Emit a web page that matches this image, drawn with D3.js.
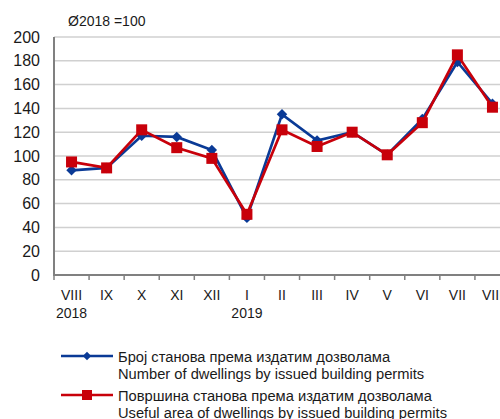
<!DOCTYPE html>
<html>
<head>
<meta charset="utf-8">
<script src="https://cdn.jsdelivr.net/npm/d3@7"></script>
<style>
  body { margin: 0; background: #fff; }
  text { font-family: Arial, "Liberation Sans", sans-serif; fill: #1a1a1a; }
</style>
</head>
<body>
<div id="chart"></div>
<script>
// data
var months = ["VIII", "IX", "X", "XI", "XII", "I", "II", "III", "IV", "V", "VI", "VII", "VIII "];
var years = ["2018", "", "", "", "", "2019", "", "", "", "", "", "", ""];
var dwellings = [88, 90, 117, 116, 105, 48, 135, 113, 120, 101, 131, 179, 144];
var area = [95, 90, 122, 107, 98, 51, 122, 108, 120, 101, 128, 185, 141];
var yTicks = [0, 20, 40, 60, 80, 100, 120, 140, 160, 180, 200];

var svgWidth = 500, svgHeight = 419;
var margin = { top: 37, left: 54, bottom: 144, right: -10 };
var width = 456, height = 238;

var svg = d3.select("#chart").append("svg")
  .attr("width", svgWidth).attr("height", svgHeight);

var chartGroup = svg.append("g")
  .attr("transform", `translate(${margin.left}, ${margin.top})`);

var x = d3.scaleBand().domain(months).range([0, width]);
var y = d3.scaleLinear().domain([0, 200]).range([height, 0]);

// gridlines
chartGroup.selectAll(".grid").data(yTicks.slice(1)).enter()
  .append("line")
  .attr("x1", 0).attr("x2", width)
  .attr("y1", d => y(d)).attr("y2", d => y(d))
  .attr("stroke", "#d0d0d0").attr("stroke-width", 1.5);

// y axis labels
var leftAxis = d3.axisLeft(y).tickValues(yTicks).tickSize(0).tickPadding(14);
var yAxis = chartGroup.append("g").call(leftAxis);
yAxis.select(".domain").remove();
yAxis.selectAll("text").attr("font-size", "16px").attr("fill", "#1a1a1a");

// x axis with ticks at category boundaries
chartGroup.append("line")
  .attr("x1", 0).attr("x2", width).attr("y1", height).attr("y2", height)
  .attr("stroke", "#808080").attr("stroke-width", 2);
chartGroup.append("line")
  .attr("x1", 0).attr("x2", 0).attr("y1", 0).attr("y2", height + 1)
  .attr("stroke", "#808080").attr("stroke-width", 2);
chartGroup.selectAll(".xtick").data(months).enter()
  .append("line")
  .attr("x1", d => x(d)).attr("x2", d => x(d))
  .attr("y1", height).attr("y2", height + 5)
  .attr("stroke", "#808080").attr("stroke-width", 1.5);

chartGroup.selectAll(".xlabel").data(months).enter()
  .append("text")
  .attr("x", d => x(d) + x.bandwidth() / 2)
  .attr("y", height + 25)
  .attr("text-anchor", "middle")
  .attr("font-size", "14px")
  .text(d => d.trim());

chartGroup.selectAll(".ylabel").data(years).enter()
  .append("text")
  .attr("x", (d, i) => x(months[i]) + x.bandwidth() / 2)
  .attr("y", height + 43)
  .attr("text-anchor", "middle")
  .attr("font-size", "14px")
  .text(d => d);

// unit note
svg.append("text")
  .attr("x", 68).attr("y", 26)
  .attr("font-size", "14px")
  .text("Ø2018 =100");

var line = d3.line()
  .x((d, i) => x(months[i]) + x.bandwidth() / 2)
  .y(d => y(d));

var blue = "#0a3a96", red = "#c8000a";

// dwellings series
chartGroup.append("path").datum(dwellings)
  .attr("d", line).attr("fill", "none")
  .attr("stroke", blue).attr("stroke-width", 2.7);
chartGroup.selectAll(".dia").data(dwellings).enter()
  .append("path")
  .attr("d", d3.symbol().type(d3.symbolDiamond2).size(70))
  .attr("transform", (d, i) => `translate(${x(months[i]) + x.bandwidth() / 2}, ${y(d)})`)
  .attr("fill", blue);

// area series
chartGroup.append("path").datum(area)
  .attr("d", line).attr("fill", "none")
  .attr("stroke", red).attr("stroke-width", 2.7);
chartGroup.selectAll(".sq").data(area).enter()
  .append("rect")
  .attr("x", (d, i) => x(months[i]) + x.bandwidth() / 2 - 5.5)
  .attr("y", d => y(d) - 5.5)
  .attr("width", 11).attr("height", 11)
  .attr("fill", red);

// legend
var legend = svg.append("g");
var items = [
  { color: blue, lines: ["Број станова према издатим дозволама", "Number of dwellings by issued building permits"], y: 356, sq: false },
  { color: red, lines: ["Површина станова према издатим дозволама", "Useful area of dwellings by issued building permits"], y: 395, sq: true }
];
items.forEach(function(it) {
  legend.append("line")
    .attr("x1", 61).attr("x2", 113).attr("y1", it.y).attr("y2", it.y)
    .attr("stroke", it.color).attr("stroke-width", 2.5);
  if (it.sq) {
    legend.append("rect").attr("x", 82).attr("y", it.y - 5).attr("width", 10).attr("height", 10).attr("fill", it.color);
  } else {
    legend.append("path")
      .attr("d", d3.symbol().type(d3.symbolDiamond2).size(45))
      .attr("transform", `translate(87, ${it.y})`)
      .attr("fill", it.color);
  }
  it.lines.forEach(function(t, j) {
    legend.append("text")
      .attr("x", 118).attr("y", it.y + 6 + j * 17)
      .attr("font-size", "14.7px")
      .text(t);
  });
});
</script>
</body>
</html>
